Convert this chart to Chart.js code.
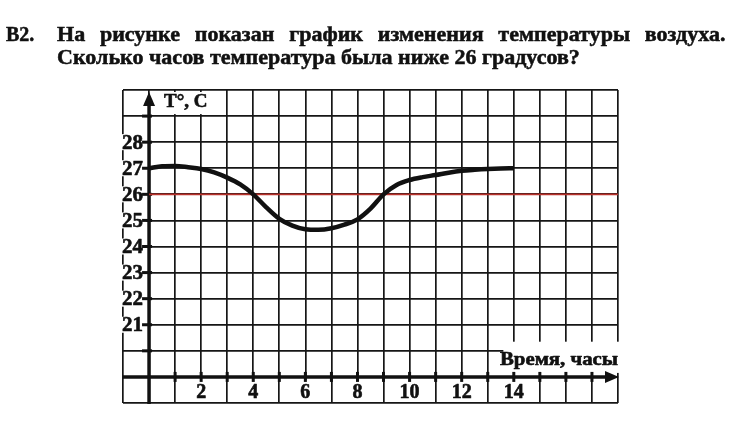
<!DOCTYPE html>
<html>
<head>
<meta charset="utf-8">
<script src="https://cdn.jsdelivr.net/npm/chart.js@4/dist/chart.umd.min.js"></script>
<style>
html,body{margin:0;padding:0;background:#fff;}
#wrap{position:relative;width:738px;height:426px;overflow:hidden;background:#fff;}
#c{position:absolute;left:0;top:0;}
.t{position:absolute;font-family:"Liberation Serif",serif;font-weight:bold;font-size:20px;line-height:20px;color:#111;white-space:nowrap;transform-origin:0 0;-webkit-text-stroke:0.5px #111;}
</style>
</head>
<body>
<div id="wrap">
<canvas id="c" width="738" height="426"></canvas>
<div class="t" id="num" style="left:6px;top:24px;">B2.</div>
<div class="t" id="l1" style="left:57px;top:24px;"></div>
<div class="t" id="l2" style="left:57px;top:47px;"></div>
</div>
<script>
// ---- data ----
const hours = [0,0.5,1,1.5,2,2.5,3,3.5,4,4.5,5,5.5,6,6.5,7,7.5,8,8.5,9,9.5,10,10.5,11,11.5,12,12.5,13,13.5,14];
const temps = [27.0,27.08,27.09,27.04,26.97,26.84,26.64,26.38,26.0,25.5,25.06,24.8,24.66,24.64,24.7,24.84,25.04,25.45,26.0,26.36,26.55,26.66,26.74,26.83,26.9,26.94,26.97,26.99,27.0];
const refLevel = 26;
const xTickLabels = ['2','4','6','8','10','12','14'];
const yTickLabels = ['21','22','23','24','25','26','27','28'];
const yAxisTitle = 'T°, C';
const xAxisTitle = 'Время, часы';
const problemNo = 'B2.';
const titleLines = ['На рисунке показан график изменения температуры воздуха.','Сколько часов температура была ниже 26 градусов?'];

// ---- title text ----
document.getElementById('num').textContent = problemNo;
const l1 = document.getElementById('l1'), l2 = document.getElementById('l2');
l1.textContent = titleLines[0];
l2.textContent = titleLines[1];
const s = 523 / l2.offsetWidth;
l2.style.transform = 'scaleX(' + s + ')';
l1.style.transform = 'scaleX(' + s + ')';
const nat1 = l1.offsetWidth;
const spaces = titleLines[0].split(' ').length - 1;
l1.style.wordSpacing = ((669 / s - nat1) / spaces) + 'px';

// ---- plugin: axes, arrows, labels ----
const INK = '#111';
function boldText(ctx, txt, x, y) {
  ctx.fillText(txt, x, y);
  ctx.strokeText(txt, x, y);
}
const axisPlugin = {
  id: 'schoolAxes',
  beforeDatasetsDraw(chart) {
    const {ctx, scales} = chart;
    const X = v => scales.x.getPixelForValue(v);
    const Y = v => scales.y.getPixelForValue(v);
    const x0 = X(0), y0 = Y(19);
    ctx.save();
    // white patches behind labels
    ctx.fillStyle = '#fff';
    yTickLabels.forEach(l => {
      const v = +l;
      ctx.fillRect(X(-1) - 4, Y(v) - 8, x0 - X(-1) + 1, 16);
    });
    xTickLabels.forEach(l => {
      const v = +l;
      ctx.fillRect(X(v) - 12, y0 + 3, 24, Y(18) - y0 - 4);
    });
    ctx.fillRect(X(13.6), Y(20.35), X(18) - X(13.6) + 6, Y(19) - Y(20.35) - 4);
    ctx.fillRect(x0 + 10, Y(30) + 2, 56, Y(29) - Y(30) - 4);

    // axes
    ctx.strokeStyle = INK; ctx.fillStyle = INK; ctx.lineWidth = 3.5;
    ctx.beginPath(); ctx.moveTo(x0, Y(18) + 1); ctx.lineTo(x0, Y(30) + 10); ctx.stroke();
    ctx.beginPath(); ctx.moveTo(X(-1), y0); ctx.lineTo(X(18) - 10, y0); ctx.stroke();
    // arrows
    ctx.beginPath(); ctx.moveTo(x0, Y(30) + 2); ctx.lineTo(x0 - 6, Y(30) + 16); ctx.lineTo(x0 + 6, Y(30) + 16); ctx.closePath(); ctx.fill();
    ctx.beginPath(); ctx.moveTo(X(18) + 1, y0); ctx.lineTo(X(18) - 13, y0 - 6); ctx.lineTo(X(18) - 13, y0 + 6); ctx.closePath(); ctx.fill();
    // tick marks
    ctx.lineWidth = 3;
    for (let v = 20; v <= 29; v++) { ctx.beginPath(); ctx.moveTo(x0 - 7, Y(v)); ctx.lineTo(x0 + 3, Y(v)); ctx.stroke(); }
    for (let v = 1; v <= 17; v++) { ctx.beginPath(); ctx.moveTo(X(v), y0 - 5); ctx.lineTo(X(v), y0 + 5); ctx.stroke(); }

    // labels
    ctx.fillStyle = INK; ctx.strokeStyle = INK; ctx.lineWidth = 0.6; ctx.lineJoin = 'round';
    ctx.font = 'bold 21px "Liberation Serif", serif';
    ctx.textAlign = 'right'; ctx.textBaseline = 'middle';
    yTickLabels.forEach(l => boldText(ctx, l, x0 - 6, Y(+l) + 1));
    ctx.font = 'bold 20px "Liberation Serif", serif';
    ctx.textAlign = 'center'; ctx.textBaseline = 'alphabetic';
    xTickLabels.forEach(l => boldText(ctx, l, X(+l), Y(18) - 5));
    ctx.font = 'bold 19px "Liberation Serif", serif';
    ctx.textAlign = 'left';
    boldText(ctx, yAxisTitle, x0 + 15, 107);
    ctx.font = 'bold 18px "Liberation Serif", serif';
    const w = ctx.measureText(xAxisTitle).width;
    ctx.save();
    ctx.translate(500, 365);
    ctx.scale(118 / w, 1);
    boldText(ctx, xAxisTitle, 0, 0);
    ctx.restore();
    ctx.restore();
  }
};

const gridOpt = {color: '#161616', lineWidth: 1.7, drawTicks: false};
new Chart(document.getElementById('c'), {
  type: 'line',
  data: {
    datasets: [
      {data: hours.map((h, i) => ({x: h, y: temps[i]})), borderColor: INK, borderWidth: 4.5,
       pointRadius: 0, cubicInterpolationMode: 'monotone', fill: false, order: 1},
      {data: [{x: 0, y: refLevel}, {x: 18, y: refLevel}], borderColor: '#b8312b', borderWidth: 1.6,
       pointRadius: 0, fill: false, order: 2}
    ]
  },
  options: {
    responsive: false, animation: false, devicePixelRatio: 1,
    layout: {padding: {left: 123, right: 120, top: 90, bottom: 23}},
    plugins: {legend: {display: false}, tooltip: {enabled: false}, title: {display: false}},
    scales: {
      x: {type: 'linear', min: -1, max: 18, ticks: {display: false, stepSize: 1, maxTicksLimit: 100}, grid: gridOpt, border: {display: false}},
      y: {type: 'linear', min: 18, max: 30, ticks: {display: false, stepSize: 1, maxTicksLimit: 100}, grid: gridOpt, border: {display: false}}
    }
  },
  plugins: [axisPlugin]
});
</script>
</body>
</html>
